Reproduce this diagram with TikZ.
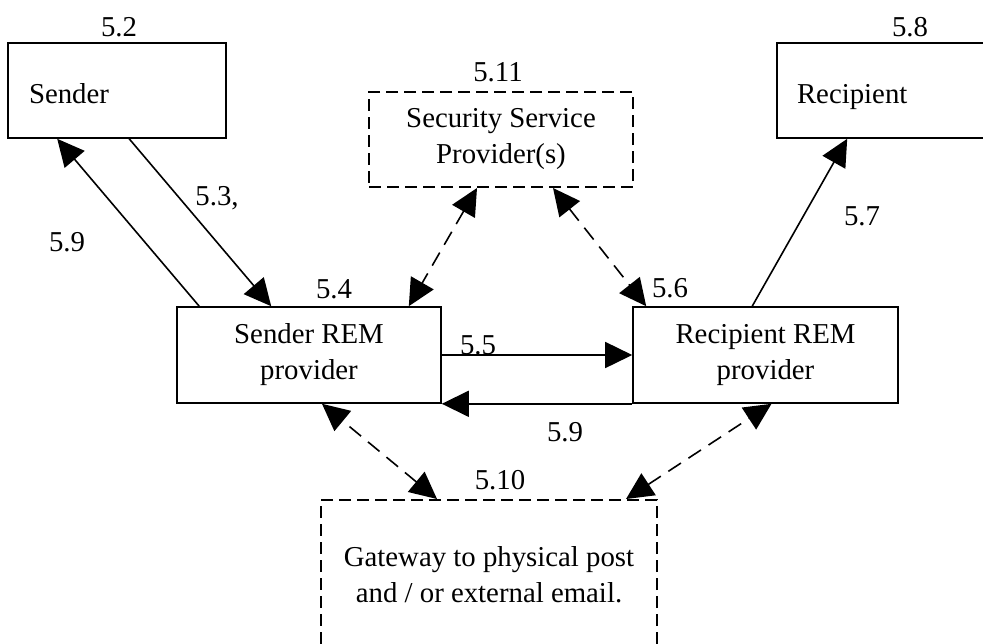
\documentclass[tikz,border=0pt]{standalone}
\usepackage{fontspec}
\setmainfont{Liberation Serif}
\usetikzlibrary{arrows.meta}

\begin{document}
\begin{tikzpicture}[x=0.5pt,y=-0.5pt,line width=0.8pt,
  font=\fontsize{14.4}{18}\selectfont,
  box/.style={draw, rectangle, align=center, inner sep=0pt},
  lbox/.style={box, align=left, text height=12.5pt, text depth=0pt, minimum height=47.5pt},
  dbox/.style={box, line width=1pt, dash pattern=on 6pt off 3pt},
  lbl/.style={inner sep=0pt},
  arr/.style={-{Triangle[length=13.5pt,width=13pt]}},
  darr/.style={{Triangle[length=13.5pt,width=13pt]}-{Triangle[length=13.5pt,width=13pt]}, dash pattern=on 7.5pt off 4.5pt}]
\useasboundingbox (0,0) rectangle (983,643);
\clip (0,0) rectangle (983,643);

\node[lbox, text width=88pt, inner xsep=10.5pt] (sender) at (117,90.5) {Sender};
\node[lbox, text width=96.5pt, inner xsep=10pt] (recipient) at (893.5,90.5) {Recipient};
\node[dbox, minimum width=132pt, minimum height=47.5pt] (ssp) at (501,139.5) {Security Service\\Provider(s)};
\node[box, minimum width=132pt, minimum height=48pt] (srem) at (309,355) {Sender REM\\provider};
\node[box, minimum width=132.5pt, minimum height=48pt] (rrem) at (765.5,355) {Recipient REM\\provider};
\node[dbox, minimum width=168pt, minimum height=75pt] (gw) at (489,575) {Gateway to physical post\\and / or external email.};

\node[lbl] (n52) at (119,27) {5.2};
\node[lbl] (n58) at (910,27) {5.8};
\node[lbl] (n511) at (498,72) {5.11};
\node[lbl] (n53) at (217,198) {5.3,};
\node[lbl] (n59a) at (67,242) {5.9};
\node[lbl] (n57) at (862,216) {5.7};
\node[lbl] (n54) at (334,289) {5.4};
\node[lbl] (n56) at (670,288) {5.6};
\node[lbl] (n55) at (478,345) {5.5};
\node[lbl] (n59b) at (565,432) {5.9};
\node[lbl] (n510) at (500,480) {5.10};

\path[draw,arr] ([xshift=11.5pt]srem.north west) -- ([xshift=25pt]sender.south west);
\path[draw,arr] ([xshift=61pt]sender.south west) -- ([xshift=47.5pt]srem.north west);
\path[draw,arr] ([xshift=60pt]rrem.north west) -- ([xshift=35.5pt]recipient.south west);
\path[draw,arr] (srem.east) -- (rrem.west);
\path[draw,arr] (rrem.south west) -- (srem.south east);

\path[draw,darr] ([xshift=54.5pt]ssp.south west) -- ([xshift=-16.5pt]srem.north east);
\path[draw,darr] ([xshift=-40.5pt]ssp.south east) -- ([xshift=7pt]rrem.north west);
\path[draw,darr] ([xshift=58.5pt]gw.north west) -- ([xshift=6.5pt]srem.south);
\path[draw,darr] ([xshift=-16pt]gw.north east) -- ([xshift=3pt]rrem.south);
\end{tikzpicture}
\end{document}
